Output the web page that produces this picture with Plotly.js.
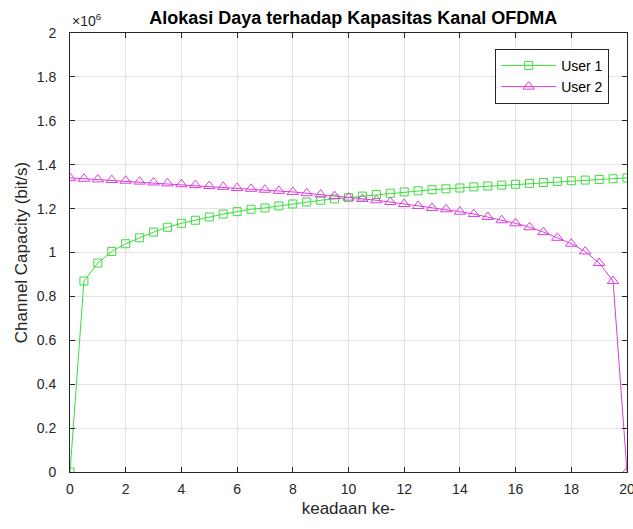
<!DOCTYPE html>
<html>
<head>
<meta charset="utf-8">
<script src="https://cdn.plot.ly/plotly-3.0.1.min.js"></script>
<style>html,body{margin:0;padding:0;background:#fff;}#chart{width:633px;height:529px;}</style>
</head>
<body>
<div id="chart"></div>
<script>
// keadaan ke- (state index), step 0.5
const keadaan = [0,0.5,1,1.5,2,2.5,3,3.5,4,4.5,5,5.5,6,6.5,7,7.5,8,8.5,9,9.5,10,
  10.5,11,11.5,12,12.5,13,13.5,14,14.5,15,15.5,16,16.5,17,17.5,18,18.5,19,19.5,20];
// Channel capacity, x 10^6 bit/s
const user1 = [0,0.870,0.952,1.005,1.040,1.067,1.093,1.115,1.133,1.147,1.162,1.175,1.186,1.197,1.203,1.212,1.221,1.230,1.238,1.244,1.250,
  1.257,1.264,1.270,1.276,1.281,1.286,1.290,1.294,1.299,1.303,1.307,1.311,1.315,1.319,1.323,1.327,1.330,1.333,1.336,1.340];
const user2 = [1.340,1.336,1.333,1.330,1.327,1.323,1.319,1.315,1.311,1.307,1.303,1.299,1.294,1.290,1.286,1.281,1.276,1.270,1.264,1.257,1.250,
  1.244,1.238,1.230,1.221,1.212,1.203,1.197,1.186,1.175,1.162,1.147,1.133,1.115,1.093,1.067,1.040,1.005,0.952,0.870,0];
const xTicks = [0,2,4,6,8,10,12,14,16,18,20];
const yTicks = [0,0.2,0.4,0.6,0.8,1,1.2,1.4,1.6,1.8,2];
const yTickText = ['0','0.2','0.4','0.6','0.8','1','1.2','1.4','1.6','1.8','2'];

const font = 'Liberation Sans, Arial, Helvetica, sans-serif';
const green = '#3ddc3d', magenta = '#dd3ddd';
const traces = [
  {x: keadaan, y: user1, name: 'User 1', mode: 'lines+markers', type: 'scatter',
   line: {color: green, width: 1},
   marker: {symbol: 'square-open', size: 8, color: green, line: {width: 1, color: green}}},
  {x: keadaan, y: user2, name: 'User 2', mode: 'lines+markers', type: 'scatter',
   line: {color: magenta, width: 1},
   marker: {symbol: 'triangle-up-open', size: 10, color: magenta, line: {width: 1, color: magenta}}}
];
const axisCommon = {
  showline: true, linecolor: '#262626', linewidth: 1, mirror: 'ticks',
  ticks: 'inside', ticklen: 5, tickcolor: '#262626',
  showgrid: true, gridcolor: '#e3e3e3', gridwidth: 1, zeroline: false,
  tickfont: {family: font, size: 14, color: '#262626'}
};
const layout = {
  width: 633, height: 529,
  margin: {l: 70, r: 6, t: 33, b: 57},
  paper_bgcolor: '#ffffff', plot_bgcolor: '#ffffff',
  title: {text: '<b>Alokasi Daya terhadap Kapasitas Kanal OFDMA</b>', x: 0.558, xanchor: 'center', y: 0.966, yanchor: 'middle',
          font: {family: font, size: 18, color: '#000'}},
  xaxis: Object.assign({}, axisCommon, {range: [0, 20], tickvals: xTicks, ticklabeloverflow: 'allow', ticklabelstandoff: 4,
    title: {text: 'keadaan ke-', font: {family: font, size: 17, color: '#262626'}, standoff: 6}}),
  yaxis: Object.assign({}, axisCommon, {range: [0, 2], tickvals: yTicks, ticktext: yTickText, ticklabelstandoff: 10,
    title: {text: 'Channel Capacity (bit/s)', font: {family: font, size: 17, color: '#262626'}, standoff: 4}}),
  showlegend: true,
  legend: {x: 0.968, y: 0.964, xanchor: 'right', yanchor: 'top', bgcolor: '#ffffff',
           bordercolor: '#262626', borderwidth: 1, font: {family: font, size: 14, color: '#000'},
           tracegroupgap: 0, itemwidth: 55},
  annotations: [{xref: 'paper', yref: 'paper', x: 0.0, y: 1.0, xanchor: 'left', yanchor: 'bottom', yshift: 2,
    text: '×10<sup>6</sup>', showarrow: false, font: {family: font, size: 14, color: '#262626'}}]
};
Plotly.newPlot('chart', traces, layout, {displayModeBar: false, staticPlot: true});
</script>
</body>
</html>
